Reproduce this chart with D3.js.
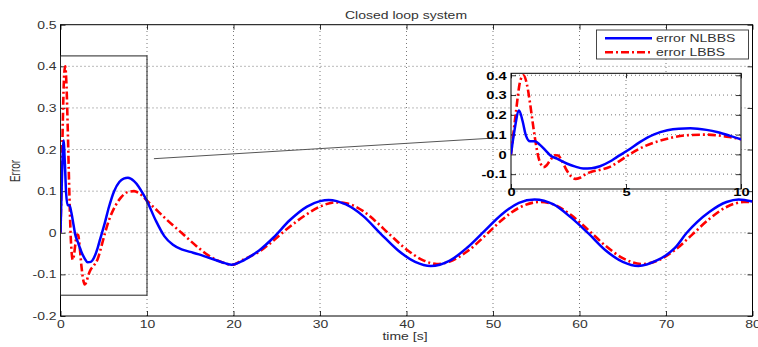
<!DOCTYPE html>
<html>
<head>
<meta charset="utf-8">
<script src="https://cdn.jsdelivr.net/npm/d3@7"></script>
<style>
  html, body { margin: 0; padding: 0; background: #fff; }
  svg { display: block; }
  text { font-family: "Liberation Sans", Arial, sans-serif; }
</style>
</head>
<body>
<svg id="chart" width="758" height="347"></svg>
<script>
// Closed loop tracking error of the two controllers (NLBBS vs LBBS)
const timeNL = [0, 0.15, 0.35, 0.5, 0.65, 0.83, 1.04, 1.26, 1.5, 1.7, 2.0, 2.42, 2.8, 3.14, 3.5, 3.87, 4.3, 4.6, 5.1, 5.6, 6.2, 6.8, 7.3, 7.8, 8.5, 9.0, 9.5, 10,
  11, 12, 13, 14, 15, 16, 17, 18, 19, 19.8, 21, 22, 23, 24.6, 26.5, 28.5, 30, 31, 33, 35, 37, 39, 41, 42.8, 45, 47, 49, 51, 53, 54.8,
  57, 59, 61, 63, 65, 66.8, 69, 70, 71, 72.4, 75, 77, 78.4, 80];
const errorNL = [0.0, 0.12, 0.222, 0.17, 0.095, 0.066, 0.066, 0.048, 0.02, -0.004, -0.022, -0.046, -0.062, -0.071, -0.07, -0.06, -0.036, -0.014, 0.022, 0.062, 0.1, 0.122, 0.13, 0.132, 0.124, 0.112, 0.095, 0.076,
  0.03, -0.008, -0.029, -0.04, -0.046, -0.052, -0.059, -0.066, -0.073, -0.077, -0.068, -0.056, -0.042, -0.012, 0.03, 0.063, 0.076, 0.079, 0.068, 0.04, -0.002, -0.042, -0.07, -0.08, -0.067, -0.036, 0.004, 0.044, 0.072, 0.08,
  0.068, 0.037, -0.001, -0.042, -0.07, -0.08, -0.066, -0.054, -0.037, 0.0, 0.05, 0.074, 0.08, 0.075];

const timeL = [0, 0.2, 0.4, 0.54, 0.7, 0.83, 0.97, 1.1, 1.19, 1.3, 1.41, 1.55, 1.7, 1.91, 2.05, 2.2, 2.42, 2.6, 2.8, 3.0, 3.2, 3.5, 3.8, 4.3, 4.7, 5.1, 5.6, 6.3, 7.0, 7.8, 8.5, 9.0, 9.5, 10,
  11, 12, 13, 14, 15, 16, 17, 18, 19, 19.8, 21, 22, 23, 24.6, 26, 28.5, 30, 31.9, 33, 35, 36.2, 38, 40, 42, 43.5, 45, 47, 49.5, 51, 53, 55.4,
  57, 59, 61, 63, 65, 67.3, 69, 71, 73, 75, 77, 79, 80];
const errorL = [0.0, 0.2, 0.37, 0.4, 0.35, 0.257, 0.139, 0.04, -0.013, -0.05, -0.065, -0.055, -0.03, -0.004, -0.006, -0.03, -0.08, -0.11, -0.124, -0.118, -0.103, -0.088, -0.08, -0.063, -0.035, -0.004, 0.03, 0.063, 0.085, 0.098, 0.1, 0.096, 0.088, 0.077,
  0.057, 0.037, 0.018, 0.0, -0.019, -0.037, -0.053, -0.065, -0.073, -0.077, -0.066, -0.056, -0.045, -0.019, 0.006, 0.045, 0.063, 0.073, 0.071, 0.052, 0.032, -0.003, -0.04, -0.067, -0.075, -0.069, -0.045, 0.001, 0.03, 0.06, 0.074,
  0.068, 0.043, 0.007, -0.031, -0.061, -0.075, -0.067, -0.042, -0.005, 0.033, 0.062, 0.074, 0.074];

const xTicks = [0, 10, 20, 30, 40, 50, 60, 70, 80];
const yTicks = [-0.2, -0.1, 0, 0.1, 0.2, 0.3, 0.4, 0.5];
const insetXTicks = [0, 5, 10];
const insetYTicks = [-0.1, 0, 0.1, 0.2, 0.3, 0.4];
const zoomWindow = { t0: 0, t1: 10, e0: -0.15, e1: 0.425 };
const connector = [[10.8, 0.178], [50.4, 0.228]];
const seriesNames = ["error NLBBS", "error LBBS"];

const SX = 1.4; // horizontal glyph stretch of the figure text
const BLUE = "#0000ff", RED = "#ff0000";
const DASHDOT = "8,3,2,3";

const svg = d3.select("#chart");
const nl = timeNL.map((t, i) => [t, errorNL[i]]);
const lb = timeL.map((t, i) => [t, errorL[i]]);

function stretchedText(g, px, py, str, opts = {}) {
  return g.append("text")
    .attr("transform", `translate(${px},${py}) scale(${SX},1)`)
    .attr("text-anchor", opts.anchor || "start")
    .attr("font-size", opts.size || 10)
    .attr("font-weight", opts.weight || "normal")
    .attr("fill", opts.fill || "#333")
    .text(str);
}

function drawAxes(g, x, y, xt, yt, opts) {
  const [x0, x1] = x.range();
  const [y0, y1] = y.range(); // y0 bottom, y1 top
  // dotted grid
  g.append("g").selectAll("line").data(xt.filter(d => x(d) > x0 + 1 && x(d) < x1 - 1)).join("line")
    .attr("x1", d => x(d)).attr("x2", d => x(d)).attr("y1", y0).attr("y2", y1)
    .attr("stroke", "#555").attr("stroke-width", 0.8).attr("stroke-dasharray", "1,3");
  g.append("g").selectAll("line").data(yt.filter(d => y(d) < y0 - 1 && y(d) > y1 + 1)).join("line")
    .attr("x1", x0).attr("x2", x1).attr("y1", d => y(d)).attr("y2", d => y(d))
    .attr("stroke", "#555").attr("stroke-width", 0.8).attr("stroke-dasharray", "1,3");

  const fmt = d => String(d);
  const tick = 5;
  const bottom = g.append("g").attr("transform", `translate(0,${y0})`)
    .call(d3.axisBottom(x).tickValues(xt).tickSizeInner(-tick).tickSizeOuter(0).tickFormat(fmt));
  const top = g.append("g").attr("transform", `translate(0,${y1})`)
    .call(d3.axisTop(x).tickValues(xt).tickSizeInner(-tick).tickSizeOuter(0).tickFormat(""));
  const left = g.append("g").attr("transform", `translate(${x0},0)`)
    .call(d3.axisLeft(y).tickValues(yt).tickSizeInner(-tick).tickSizeOuter(0).tickFormat(fmt));
  const right = g.append("g").attr("transform", `translate(${x1},0)`)
    .call(d3.axisRight(y).tickValues(yt).tickSizeInner(-tick).tickSizeOuter(0).tickFormat(""));
  [bottom, top, left, right].forEach(a => {
    a.select(".domain").remove();
    a.selectAll(".tick line").attr("stroke", "#000").attr("stroke-width", 0.8);
  });
  bottom.selectAll(".tick text")
    .attr("y", null).attr("dy", null)
    .attr("transform", `translate(0,${opts.xLabelDy}) scale(${SX},1)`)
    .attr("font-size", opts.size).attr("font-weight", opts.weight)
    .attr("font-family", "Liberation Sans, Arial, sans-serif")
    .attr("fill", opts.fill).attr("text-anchor", "middle");
  left.selectAll(".tick text")
    .attr("x", null).attr("dy", null)
    .attr("transform", `translate(${-opts.yLabelDx},${opts.size * 0.36}) scale(${SX},1)`)
    .attr("font-size", opts.size).attr("font-weight", opts.weight)
    .attr("font-family", "Liberation Sans, Arial, sans-serif")
    .attr("fill", opts.fill).attr("text-anchor", "end");
  // frame
  g.append("rect").attr("x", x0).attr("y", y1).attr("width", x1 - x0).attr("height", y0 - y1)
    .attr("fill", "none").attr("stroke", "#000").attr("stroke-width", 1);
}

function drawSeries(g, x, y, clipId) {
  const line = d3.line().x(d => x(d[0])).y(d => y(d[1])).curve(d3.curveMonotoneX);
  const c = g.append("g").attr("clip-path", `url(#${clipId})`);
  c.append("path").datum(lb).attr("d", line).attr("fill", "none")
    .attr("stroke", RED).attr("stroke-width", 2.6).attr("stroke-dasharray", DASHDOT)
    .attr("stroke-linejoin", "round");
  c.append("path").datum(nl).attr("d", line).attr("fill", "none")
    .attr("stroke", BLUE).attr("stroke-width", 2.5).attr("stroke-linejoin", "round");
}

// ---------- main axes ----------
const x = d3.scaleLinear().domain([0, 80]).range([60.5, 752.5]);
const y = d3.scaleLinear().domain([-0.2, 0.5]).range([316, 24.7]);
const defs = svg.append("defs");
defs.append("clipPath").attr("id", "clipMain").append("rect")
  .attr("x", x(0)).attr("y", y(0.5)).attr("width", x(80) - x(0)).attr("height", y(-0.2) - y(0.5));

const main = svg.append("g");
drawAxes(main, x, y, xTicks, yTicks, { size: 10, weight: "normal", fill: "#333", xLabelDy: 11.5, yLabelDx: 3.9 });
drawSeries(main, x, y, "clipMain");

// zoom window and connector
main.append("rect")
  .attr("x", x(zoomWindow.t0)).attr("y", y(zoomWindow.e1))
  .attr("width", x(zoomWindow.t1) - x(zoomWindow.t0)).attr("height", y(zoomWindow.e0) - y(zoomWindow.e1))
  .attr("fill", "none").attr("stroke", "#222").attr("stroke-width", 1);
main.append("line")
  .attr("x1", x(connector[0][0])).attr("y1", y(connector[0][1]))
  .attr("x2", x(connector[1][0])).attr("y2", y(connector[1][1]))
  .attr("stroke", "#555").attr("stroke-width", 1);

// titles
stretchedText(svg, 406, 19.3, "Closed loop system", { anchor: "middle" });
stretchedText(svg, 405, 340, "time [s]", { anchor: "middle" });
svg.append("text")
  .attr("transform", "translate(20,171) rotate(-90) scale(1,1.4)")
  .attr("text-anchor", "middle").attr("font-size", 10).attr("fill", "#333")
  .text("Error");

// legend
const leg = svg.append("g");
leg.append("rect").attr("x", 596.5).attr("y", 30).attr("width", 152).attr("height", 29)
  .attr("fill", "#fff").attr("stroke", "#333").attr("stroke-width", 0.9);
[[BLUE, null, 38.3], [RED, DASHDOT, 52.3]].forEach(([col, dash, ly], i) => {
  leg.append("line").attr("x1", 605).attr("x2", 652).attr("y1", ly).attr("y2", ly)
    .attr("stroke", col).attr("stroke-width", 2.5).attr("stroke-dasharray", dash);
  stretchedText(leg, 656, ly + 3.6, seriesNames[i], { size: 10 });
});

// ---------- inset: first 10 seconds ----------
const xi = d3.scaleLinear().domain([0, 10]).range([511, 741]);
const yi = d3.scaleLinear().domain([-0.175, 0.41]).range([189, 73.3]);
defs.append("clipPath").attr("id", "clipInset").append("rect")
  .attr("x", 511).attr("y", 73.3).attr("width", 230).attr("height", 189 - 73.3);
const inset = svg.append("g");
inset.append("rect").attr("x", 511).attr("y", 73.3).attr("width", 230).attr("height", 189 - 73.3).attr("fill", "#fff");
drawAxes(inset, xi, yi, insetXTicks, insetYTicks, { size: 10.5, weight: "bold", fill: "#000", xLabelDy: 7, yLabelDx: 4.3 });
drawSeries(inset, xi, yi, "clipInset");
</script>
</body>
</html>
